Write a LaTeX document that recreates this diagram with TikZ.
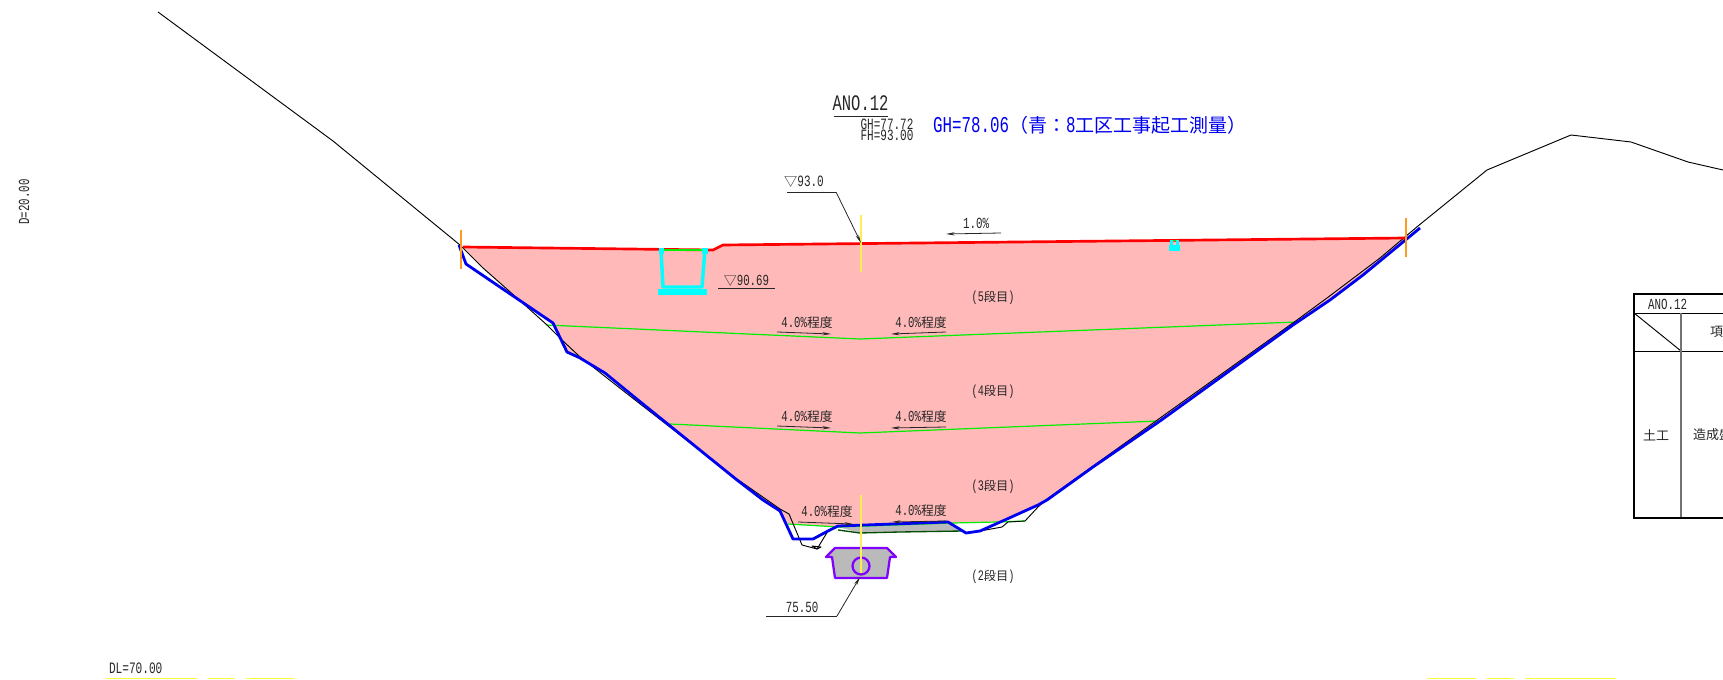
\documentclass[tikz,border=0pt]{standalone}
\usepackage{fontspec}
\usepackage{graphicx}
\usetikzlibrary{arrows.meta}
\setmainfont[FakeStretch=0.7]{Liberation Mono}
\newfontfamily\cjkf[Scale=0.84]{Noto Sans CJK JP}
\newcommand\jp[1]{{\cjkf #1}}
% size by half-width character advance (px)
\newcommand\sz[1]{\fontsize{\fpeval{1.786*#1}pt}{\fpeval{2.1*#1}pt}\selectfont}
\definecolor{pinkfill}{HTML}{FFB9B9}
\definecolor{cadblue}{HTML}{0000F0}
\definecolor{cadgreen}{HTML}{00F000}
\definecolor{cadcyan}{HTML}{00FFFF}
\definecolor{cadpurple}{HTML}{7F00FF}
\definecolor{cadorange}{HTML}{FF9A20}
\definecolor{cadyellow}{HTML}{FFEE50}
\definecolor{lineyellow}{HTML}{FFFF40}
\tikzset{
  lab/.style={inner sep=0pt,outer sep=0pt,text=black!85},
  thin line/.style={draw=black,line width=0.7pt,line join=round},
  leader/.style={draw=black!85,line width=0.6pt,-{Stealth[length=6.5pt,width=2.4pt]}},
  under/.style={draw=black!85,line width=0.6pt},
  bluel/.style={draw=cadblue,line width=2.1pt,line join=round},
  redl/.style={draw=red,line width=2pt,line join=round},
  greenl/.style={draw=cadgreen,line width=0.9pt,line join=round},
  ylw/.style={draw=lineyellow,line width=0.7pt},
}
\begin{document}
\begin{tikzpicture}[x=0.75pt,y=-0.75pt]
\useasboundingbox (0,0) rectangle (1723,680);
% fill of embankment
\fill[pinkfill] (463,247) -- (713,250) -- (723,245) -- (1406,238) -- (1363,275) -- (1330,300)
  -- (1160,421) -- (1093,467) -- (1047,500) -- (1038,505) -- (1007,519) -- (997,522) -- (953,523)
  -- (948,522) -- (838,527) -- (788,524) -- (780,509) -- (770,504) -- (737,480) -- (638,400)
  -- (605,373) -- (580,358) -- (567,352) -- (558,335) -- (553,323) -- (517,298) -- (483,268) -- cycle;
% gray lens
\fill[black!27] (838,527) -- (948,523) -- (963,531) -- (900,532) -- (860,533) -- cycle;
\draw[draw=black!70!green,line width=1pt] (838,530) -- (860,533) -- (900,532) -- (963,531);
% benches
\draw[greenl] (546,325) -- (860,339) -- (1297,322);
\draw[greenl] (670,424) -- (860,433) -- (1158,421);
\draw[greenl] (788,524) -- (838,527) -- (953,523) -- (997,522) -- (1025,521);
\draw[greenl] (497,285) -- (527,305);
% original ground
\draw[thin line] (158,12) -- (333,141) -- (460,245) -- (483,268) -- (517,298) -- (547,325) -- (562,340)
  -- (579,356) -- (635,400) -- (737,479) -- (780,509) -- (789,514) -- (802,545) -- (817,549) -- (828,531);
\draw[thin line] (812,546) -- (821,547) -- (817,549) -- cycle;
\draw[thin line] (980,531) -- (1002,527) -- (1008,522) -- (1025,521) -- (1038,507) -- (1047,499) -- (1107,456)
  -- (1297,320) -- (1327,298) -- (1380,258) -- (1418,226) -- (1487,170) -- (1571,135) -- (1631,142)
  -- (1688,162) -- (1723,170);
% surveyed ground (blue)
\draw[bluel] (459,245) -- (466,264) -- (553,323) -- (567,352) -- (580,358) -- (605,373) -- (638,400)
  -- (737,480) -- (763,500) -- (780,511) -- (793,539) -- (813,539) -- (828,531) -- (838,526) -- (948,522)
  -- (966,533) -- (980,531) -- (1007,519) -- (1038,505) -- (1047,500) -- (1093,467) -- (1160,421)
  -- (1293,325) -- (1330,300) -- (1363,275) -- (1420,228);
% planned surface
\draw[redl] (463,247) -- (713,250) -- (723,245) -- (1406,238);
\draw[greenl] (661,250) -- (705,250);
% gutter
\draw[draw=cadcyan,line width=2.6pt,line join=round] (661,249) -- (663,287) -- (702,287) -- (705,249);
\fill[cadcyan] (658,289) rectangle (707,295);
\fill[cadcyan] (658.5,248) rectangle (664,254);
\fill[cadcyan] (702,248) rectangle (707.5,254);
% small gutter
\fill[cadcyan] (1169,245) rectangle (1180,251);
\fill[cadcyan] (1170,240) rectangle (1173,245);
\fill[cadcyan] (1176,240) rectangle (1179,245);
\draw[draw=cadgreen,line width=0.7pt] (1173,240.5) -- (1176,240.5);
% centre and edge lines
\draw[draw=cadorange,line width=0.9pt] (461,230) -- (461,269);
\draw[draw=cadorange,line width=0.9pt] (1406,218) -- (1406,257);
\draw[draw=cadyellow,line width=0.9pt] (861,215) -- (861,272);
% culvert
\filldraw[fill=black!27,draw=cadpurple,line width=1.7pt,line join=round] (835,548) -- (887,548) -- (896,557)
  -- (890,557) -- (887,578) -- (835,578) -- (832,557) -- (826,557) -- cycle;
\draw[draw=cadpurple,line width=1.7pt] (861,566) circle[radius=8.5];
\draw[draw=cadyellow,line width=0.9pt] (861,495) -- (861,573);
% title
\node[lab,anchor=center] (title) at (860.5,103.5) {\sz{9.3}ANO.12};
\draw[under] (834,116) -- (888,116);
\node[lab,anchor=center] (gh) at (887,124.5) {\sz{6.6}GH=77.72};
\node[lab,anchor=center] (fh) at (887,135.5) {\sz{6.6}FH=93.00};
\node[lab,anchor=west,text=cadblue] (bluetxt) at (933,125) {\sz{9.5}GH=78.06\jp{（青：}8\jp{工区工事起工測量）}};
% level labels and leaders
\node[lab,anchor=center] (lv93) at (804,181.5) {\sz{6.6}\jp{▽}93.0};
\coordinate (lv93a) at (787,192);
\coordinate (lv93b) at (836,192);
\coordinate (lv93c) at (861,243);
\draw[under] (lv93a) -- (lv93b);
\draw[leader] (lv93b) -- (lv93c);
\node[lab,anchor=center] (slope) at (976,223) {\sz{6.5}1.0\%};
\coordinate (sl1) at (1001,233);
\coordinate (sl2) at (946,234);
\draw[leader] (sl1) -- (sl2);
\node[lab,anchor=center] (lv90) at (746.5,280.5) {\sz{6.45}\jp{▽}90.69};
\draw[under] (718,288) -- (775,288);
% 4.0% labels
\node[lab] (a1) at (807,323) {\sz{6.4}4.0\%\jp{程度}};
\node[lab] (b1) at (921,323) {\sz{6.4}4.0\%\jp{程度}};
\node[lab] (a2) at (807,416.5) {\sz{6.4}4.0\%\jp{程度}};
\node[lab] (b2) at (921,416.5) {\sz{6.4}4.0\%\jp{程度}};
\node[lab] (a3) at (827,512) {\sz{6.4}4.0\%\jp{程度}};
\node[lab] (b3) at (921,511) {\sz{6.4}4.0\%\jp{程度}};
\draw[leader] (777,332) -- (831,334);
\draw[leader] (946,332) -- (891,334);
\draw[leader] (777,426) -- (831,428);
\draw[leader] (946,427) -- (891,428);
\draw[leader] (798,522) -- (853,524);
\draw[leader] (946,521) -- (892,522);
% lift labels
\node[lab] (d5) at (993,298) {\sz{6.1}(5\jp{段目})};
\node[lab] (d4) at (993,392) {\sz{6.1}(4\jp{段目})};
\node[lab] (d3) at (993,487) {\sz{6.1}(3\jp{段目})};
\node[lab] (d2) at (993,577) {\sz{6.1}(2\jp{段目})};
% culvert level
\node[lab] (lv75) at (802,607) {\sz{6.5}75.50};
\coordinate (c1) at (766,616);
\coordinate (c2) at (837,616);
\coordinate (c3) at (860,577);
\draw[under] (c1) -- (c2);
\draw[leader] (c2) -- (c3);
% frame labels
\node[lab,rotate=90] (dscale) at (24,202) {\sz{6.45}D=20.00};
\node[lab,anchor=west] (dl) at (109,668) {\sz{6.67}DL=70.00};
\draw[ylw] (106,678.5) -- (197,678.5);
\draw[ylw] (208,678.5) -- (235,678.5);
\draw[ylw] (246,678.5) -- (295,678.5);
\draw[ylw] (1427,678.5) -- (1476,678.5);
\draw[ylw] (1487,678.5) -- (1514,678.5);
\draw[ylw] (1525,678.5) -- (1616,678.5);
% table
\begin{scope}
\clip (0,0) rectangle (1723,680);
\draw[draw=black,line width=1.5pt] (1730,294.5) -- (1634,294.5) -- (1634,517.5) -- (1730,517.5);
\draw[draw=black,line width=0.7pt] (1634,313) -- (1730,313);
\draw[draw=black,line width=0.7pt] (1634,351) -- (1730,351);
\draw[draw=black,line width=0.7pt] (1634,313) -- (1681,351);
\draw[draw=black!55,line width=1pt] (1681,313) -- (1681,517);
\node[lab] (tno) at (1667.5,304) {\sz{6.5}ANO.12};
\node[lab,anchor=west] (tk) at (1710,332) {\sz{6.5}\jp{項}};
\node[lab,anchor=west] (tdo) at (1643,435) {\sz{6.5}\jp{土工}};
\node[lab,anchor=west] (tzo) at (1693,435) {\sz{6.5}\jp{造成盛土}};
\end{scope}
\end{tikzpicture}
\end{document}
